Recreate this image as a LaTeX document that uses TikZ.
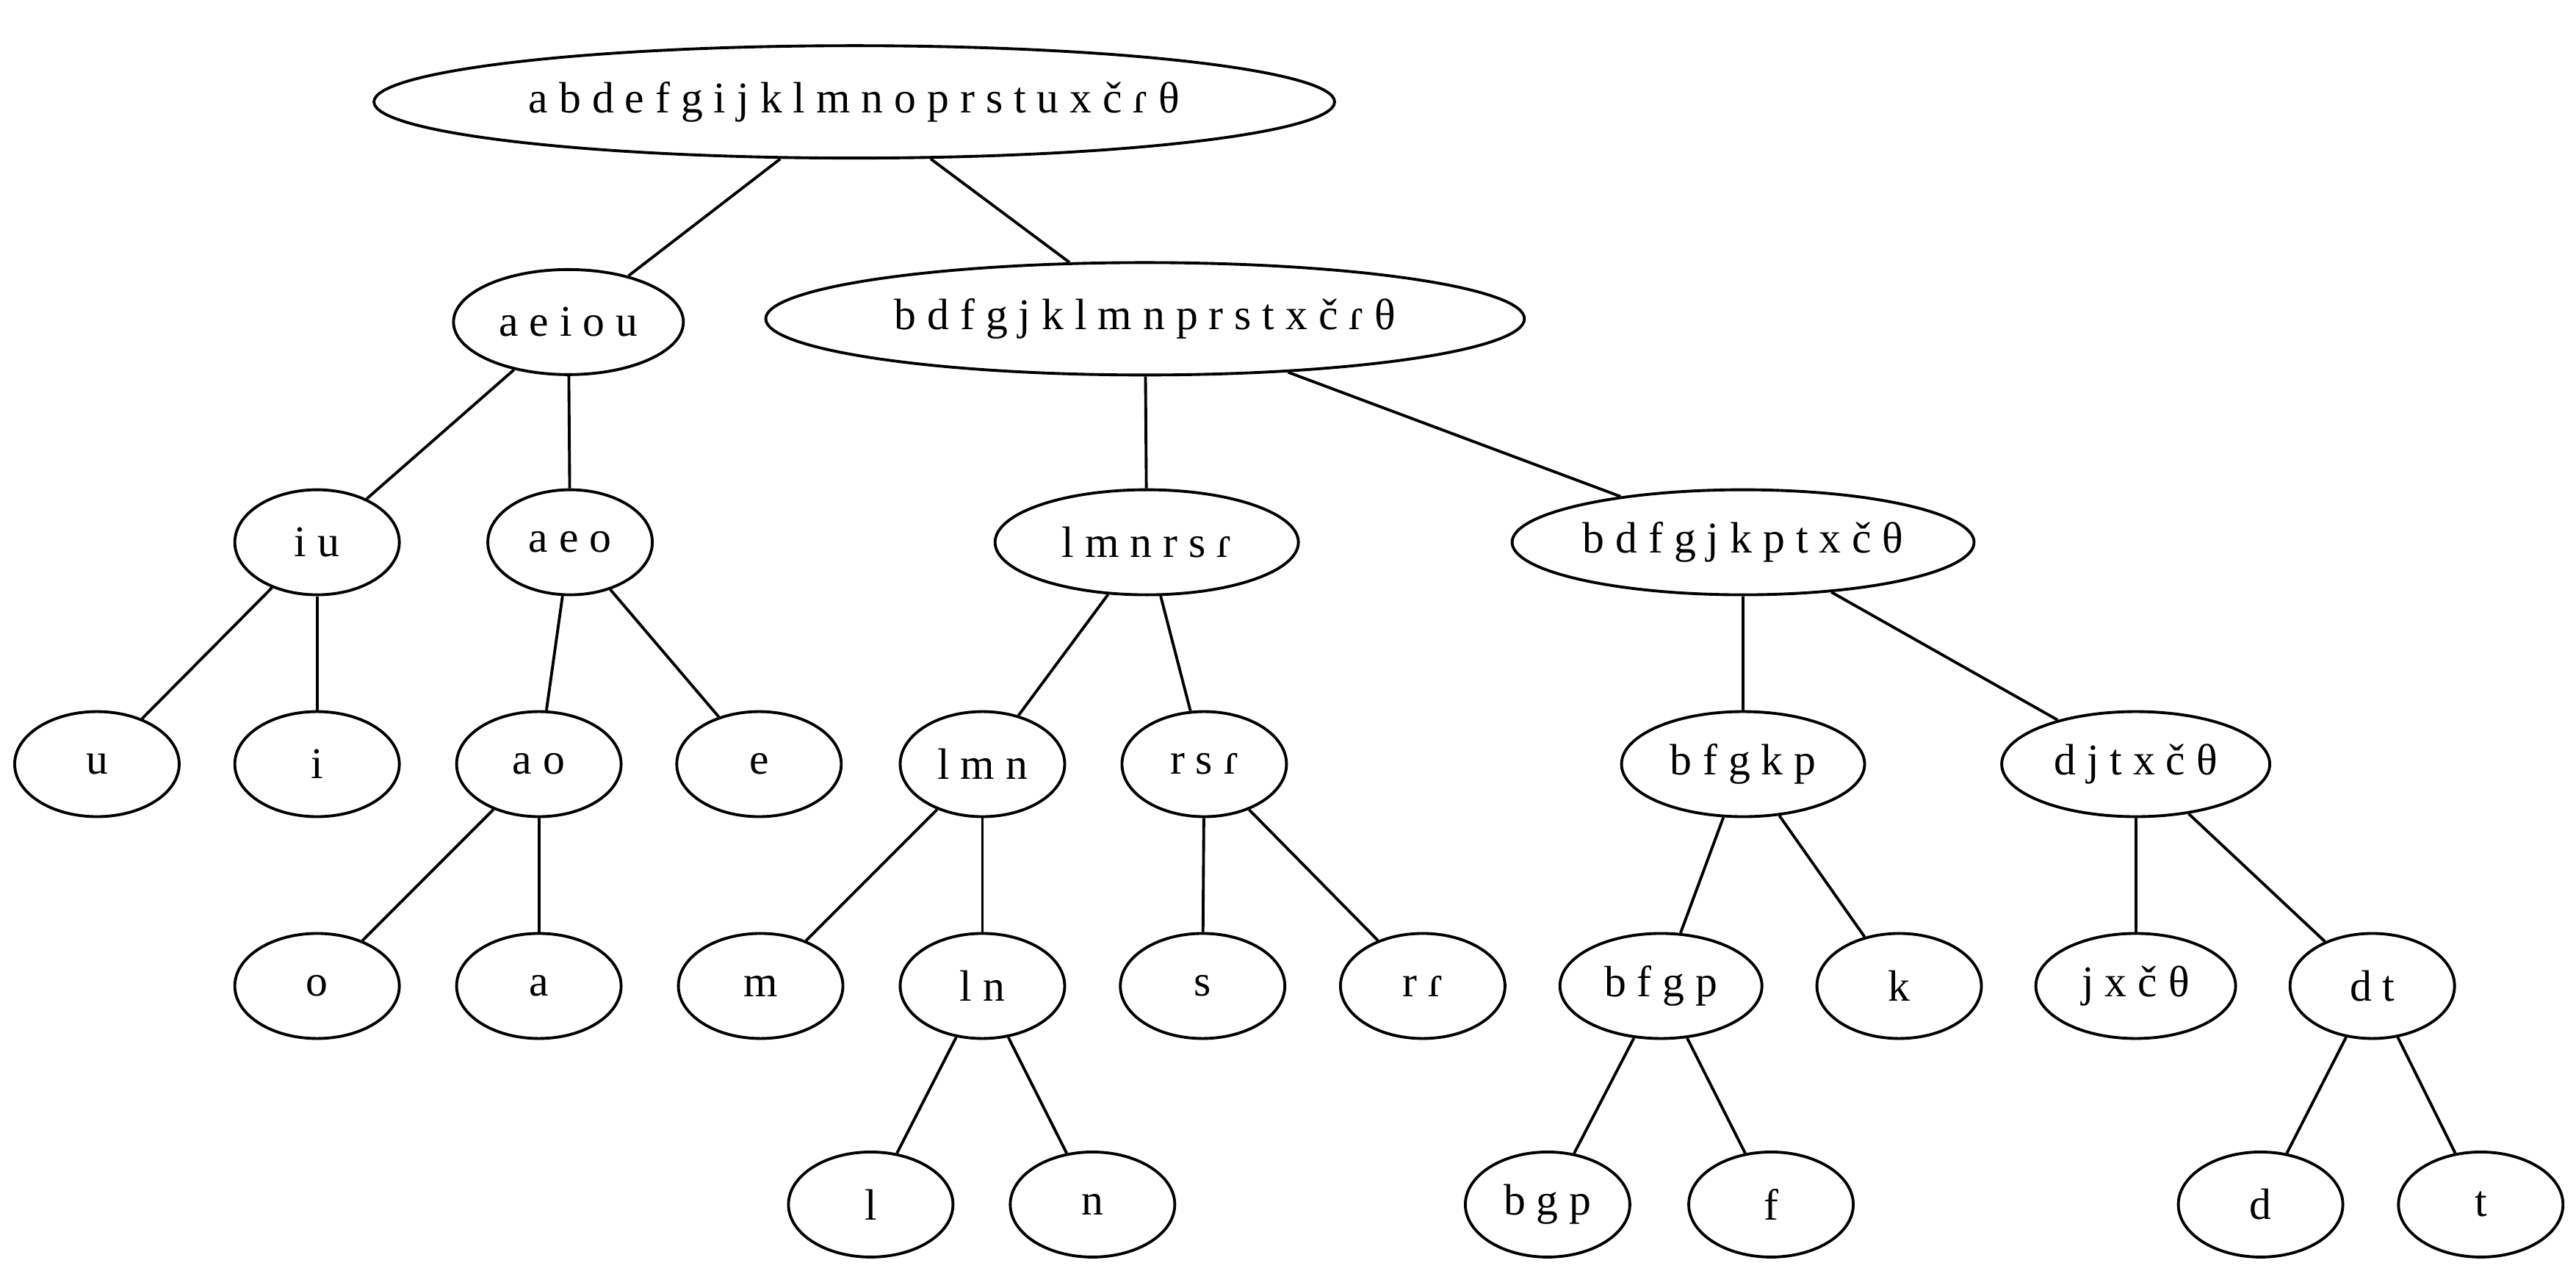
\documentclass[tikz,border=0pt]{standalone}
\usepackage{fontspec}
\setmainfont{Liberation Serif}
\usetikzlibrary{shapes.geometric}

\begin{document}
\begin{tikzpicture}[
  x=0.022366cm, y=-0.022366cm,
  seg/.style={draw, ellipse, line width=1.1pt, inner sep=0pt,
              minimum width=2.24cm, minimum height=1.43cm,
              font=\fontsize{17}{20}\selectfont},
  big/.style={seg, minimum height=1.53cm},
  link/.style={line width=1.1pt},
]
\useasboundingbox (0,0) rectangle (1568,775);

% --- Level 0 ---
\node[big, minimum width=13.08cm] (all) at (520,62) {a b d e f g i j k l m n o p r s t u x č ɾ θ};

% --- Level 1 ---
\node[seg, minimum width=3.13cm] (vow) at (346,196) {a e i o u};
\node[big, minimum width=10.33cm] (cons) at (697,194) {b d f g j k l m n p r s t x č ɾ θ};

% --- Level 2 ---
\node[seg] (iu) at (193,330) {i u};
\node[seg] (aeo) at (347,330) {a e o};
\node[seg, minimum width=4.13cm] (son) at (698,330) {l m n r s ɾ};
\node[seg, minimum width=6.29cm] (obs) at (1061,330) {b d f g j k p t x č θ};

% --- Level 3 ---
\node[seg] (u) at (59,465) {u};
\node[seg] (i) at (193,465) {i};
\node[seg] (ao) at (328,465) {a o};
\node[seg] (e) at (462,465) {e};
\node[seg] (lmn) at (598,465) {l m n};
\node[seg] (rsr) at (733,465) {r s ɾ};
\node[seg, minimum width=3.31cm] (bfgkp) at (1061,465) {b f g k p};
\node[seg, minimum width=3.65cm] (djtx) at (1300,465) {d j t x č θ};

% --- Level 4 ---
\node[seg] (o) at (193,600) {o};
\node[seg] (a) at (328,600) {a};
\node[seg] (m) at (463,600) {m};
\node[seg] (ln) at (598,600) {l n};
\node[seg] (s) at (732,600) {s};
\node[seg] (rr) at (866,600) {r ɾ};
\node[seg, minimum width=2.75cm] (bfgp) at (1011,600) {b f g p};
\node[seg] (k) at (1156,600) {k};
\node[seg, minimum width=2.72cm] (jxc) at (1300,600) {j x č θ};
\node[seg] (dt) at (1444,600) {d t};

% --- Level 5 ---
\node[seg] (l) at (530,733) {l};
\node[seg] (n) at (665,733) {n};
\node[seg] (bgp) at (942,733) {b g p};
\node[seg] (f) at (1078,733) {f};
\node[seg] (d) at (1376,733) {d};
\node[seg] (t) at (1510,733) {t};

% --- Edges ---
\draw[link] (all) -- (vow);
\draw[link] (all) -- (cons);
\draw[link] (vow) -- (iu);
\draw[link] (vow) -- (aeo);
\draw[link] (cons) -- (son);
\draw[link] (cons) -- (obs);
\draw[link] (iu) -- (u);
\draw[link] (iu) -- (i);
\draw[link] (aeo) -- (ao);
\draw[link] (aeo) -- (e);
\draw[link] (son) -- (lmn);
\draw[link] (son) -- (rsr);
\draw[link] (obs) -- (bfgkp);
\draw[link] (obs) -- (djtx);
\draw[link] (ao) -- (o);
\draw[link] (ao) -- (a);
\draw[link] (lmn) -- (m);
\draw[link] (lmn) -- (ln);
\draw[link] (rsr) -- (s);
\draw[link] (rsr) -- (rr);
\draw[link] (bfgkp) -- (bfgp);
\draw[link] (bfgkp) -- (k);
\draw[link] (djtx) -- (jxc);
\draw[link] (djtx) -- (dt);
\draw[link] (ln) -- (l);
\draw[link] (ln) -- (n);
\draw[link] (bfgp) -- (bgp);
\draw[link] (bfgp) -- (f);
\draw[link] (dt) -- (d);
\draw[link] (dt) -- (t);

\end{tikzpicture}
\end{document}
